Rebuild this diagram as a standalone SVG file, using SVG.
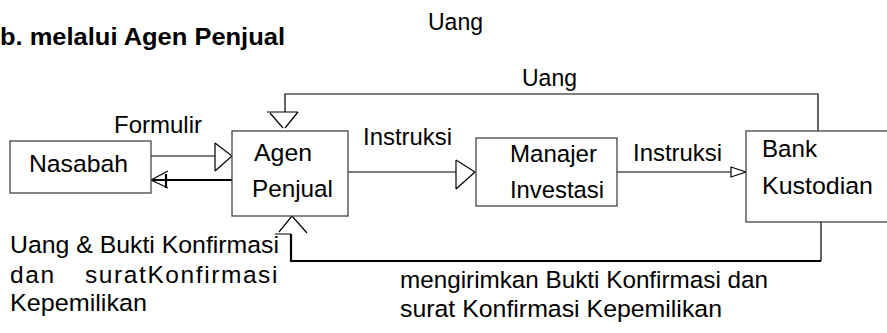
<svg xmlns="http://www.w3.org/2000/svg" width="887" height="333" viewBox="0 0 887 333">
<style>
text{font-family:"Liberation Sans",Arial,sans-serif;font-size:24.5px;fill:#000}
.title{font-weight:bold}
.box{fill:#fff;stroke:#444;stroke-width:1.3}
.ln{fill:none;stroke:#000;stroke-width:1.2}
.thk{fill:none;stroke:#000;stroke-width:2.2}
</style>
<rect width="887" height="333" fill="#fff"/>
<text class="title" x="0" y="45" textLength="285" lengthAdjust="spacingAndGlyphs">b.  melalui Agen Penjual</text>
<text x="428" y="30" textLength="55" lengthAdjust="spacingAndGlyphs">Uang</text>

<g id="connectors">
  <!-- Formulir -->
  <path class="ln" d="M151,156 H215"/>
  <path class="ln" d="M215,143 V171 M215,143 L232,156 L215,171"/>
  <!-- return to Nasabah -->
  <path class="thk" d="M235,180 H153"/>
  <path class="ln" d="M168,171 L151,180 L168,188"/>
  <path class="thk" d="M166,174 V188"/>
  <!-- Uang top -->
  <path class="ln" d="M818,131 V94 H285 V112"/>
  <path class="ln" d="M267,112 H298 M270,113 L283,128 M298,112 L285,128"/>
  <!-- Instruksi 1 -->
  <path class="ln" d="M348,172 H456"/>
  <path class="ln" d="M456,160 V189 M456,160 L475,172 L456,189"/>
  <!-- Instruksi 2 -->
  <path class="ln" d="M617,172 H731"/>
  <path class="ln" d="M731,167 V177 L746,172 Z" stroke-width="1.6"/>
  <!-- bottom return -->
  <path class="ln" d="M821,222 V261" stroke-width="1.6"/>
  <path class="thk" d="M821,261 H291 V234"/>
  <path class="ln" d="M275,234 H291 M279,232 L292,216 L307,233"/>
  <text x="522" y="86" textLength="55" lengthAdjust="spacingAndGlyphs">Uang</text>
  <text x="114" y="133" textLength="88" lengthAdjust="spacingAndGlyphs">Formulir</text>
  <text x="363" y="145" textLength="89" lengthAdjust="spacingAndGlyphs">Instruksi</text>
  <text x="633" y="161" textLength="89" lengthAdjust="spacingAndGlyphs">Instruksi</text>
  <text x="10" y="253" textLength="269" lengthAdjust="spacingAndGlyphs">Uang &amp; Bukti Konfirmasi</text>
  <text y="283" letter-spacing="1.6"><tspan x="10">dan</tspan><tspan x="85" textLength="194" lengthAdjust="spacing">suratKonfirmasi</tspan></text>
  <text x="10" y="311" textLength="137" lengthAdjust="spacingAndGlyphs">Kepemilikan</text>
  <text x="400" y="288" font-size="25.5" textLength="368" lengthAdjust="spacingAndGlyphs">mengirimkan Bukti Konfirmasi  dan</text>
  <text x="400" y="317" textLength="322" lengthAdjust="spacingAndGlyphs">surat Konfirmasi Kepemilikan</text>
</g>

<g id="nasabah">
  <rect class="box" x="10" y="141" width="141" height="52"/>
  <text x="29" y="172" textLength="99" lengthAdjust="spacingAndGlyphs">Nasabah</text>
</g>
<g id="agen-penjual">
  <rect class="box" x="232" y="131" width="116" height="85"/>
  <text x="254" y="161" textLength="58" lengthAdjust="spacingAndGlyphs">Agen</text>
  <text x="252" y="197" textLength="81" lengthAdjust="spacingAndGlyphs">Penjual</text>
</g>
<g id="manajer-investasi">
  <rect class="box" x="476" y="138" width="141" height="68"/>
  <text x="510" y="162" textLength="87" lengthAdjust="spacingAndGlyphs">Manajer</text>
  <text x="510" y="198" textLength="94" lengthAdjust="spacingAndGlyphs">Investasi</text>
</g>
<g id="bank-kustodian">
  <rect class="box" x="746" y="131" width="150" height="91"/>
  <text x="762" y="157" textLength="55" lengthAdjust="spacingAndGlyphs">Bank</text>
  <text x="762" y="194" textLength="111" lengthAdjust="spacingAndGlyphs">Kustodian</text>
</g>
</svg>
